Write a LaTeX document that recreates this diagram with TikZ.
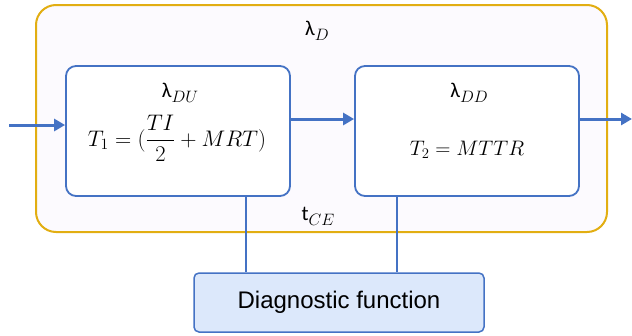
\documentclass[tikz,border=0pt]{standalone}
\usepackage{fix-cm}
\usepackage{fontspec}
\usepackage{amsmath}
\setmainfont{Liberation Sans}
\newfontfamily\lamfont{Carlito}
\usetikzlibrary{arrows.meta}
\definecolor{bblue}{HTML}{4472C4}
\definecolor{gold}{HTML}{E2AE12}
\definecolor{lav}{HTML}{FCFAFE}
\definecolor{dfill}{HTML}{DCE8FB}
\newcommand{\lsub}[1]{\raisebox{-0.25em}{\fontsize{16.5}{19}\selectfont$#1$}}
\tikzset{
  outerbox/.style={draw=gold, line width=2pt, fill=lav, rounded corners=20pt, minimum width=571pt, minimum height=227pt, inner sep=0pt},
  blockbox/.style={draw=bblue, line width=1.8pt, fill=white, rounded corners=10pt, minimum width=224pt, minimum height=130pt, inner sep=0pt},
  diagbox/.style={draw=bblue, line width=1.5pt, fill=dfill, rounded corners=5pt, minimum width=290pt, minimum height=59pt, inner sep=0pt, font=\fontsize{24}{28}\selectfont},
  flow/.style={draw=bblue, line width=3pt, -{Triangle[length=11pt,width=12pt]}},
  link/.style={draw=bblue, line width=2.2pt},
  lbl/.style={inner sep=0pt, font=\fontsize{21}{25}\selectfont},
  lamlbl/.style={inner sep=0pt, font=\fontsize{21}{25}\selectfont\lamfont},
}
\begin{document}
\begin{tikzpicture}[x=1pt,y=-1pt]
\useasboundingbox (0,0) rectangle (632,335);
\node[outerbox] (O) at (321.5,118.5) {};
\node[blockbox] (L) at (178,131) {};
\node[blockbox] (R) at (467,131) {};
\node[diagbox] (D) at (339,302.5) {Diagnostic function};
\node[lamlbl] (ld) at (317,31) {λ\lsub{D}};
\node[lamlbl] (tce) at (318,216) {t\lsub{CE}};
\node[lamlbl] (ldu) at (180,93) {λ\lsub{DU}};
\node[lbl, anchor=base, font=\fontsize{22.5}{26}\selectfont] (t1) at (177,146) {$T_1=(\dfrac{TI}{2}+MRT)$};
\node[lamlbl] (ldd) at (469,93) {λ\lsub{DD}};
\node[lbl, anchor=base] (t2) at (467,155) {$T_2=MTTR$};
\coordinate (in) at (9,125);
\coordinate (out) at (632,119);
\draw[flow] (in) -- (in -| L.west);
\draw[flow] ([yshift=12pt]L.east) -- ([yshift=12pt]R.west);
\draw[flow] ([yshift=12pt]R.east) -- (out);
\draw[link] ([xshift=68pt]L.south) -- ([xshift=68pt]L.south |- D.north);
\draw[link] ([xshift=-70pt]R.south) -- ([xshift=-70pt]R.south |- D.north);
\end{tikzpicture}
\end{document}
